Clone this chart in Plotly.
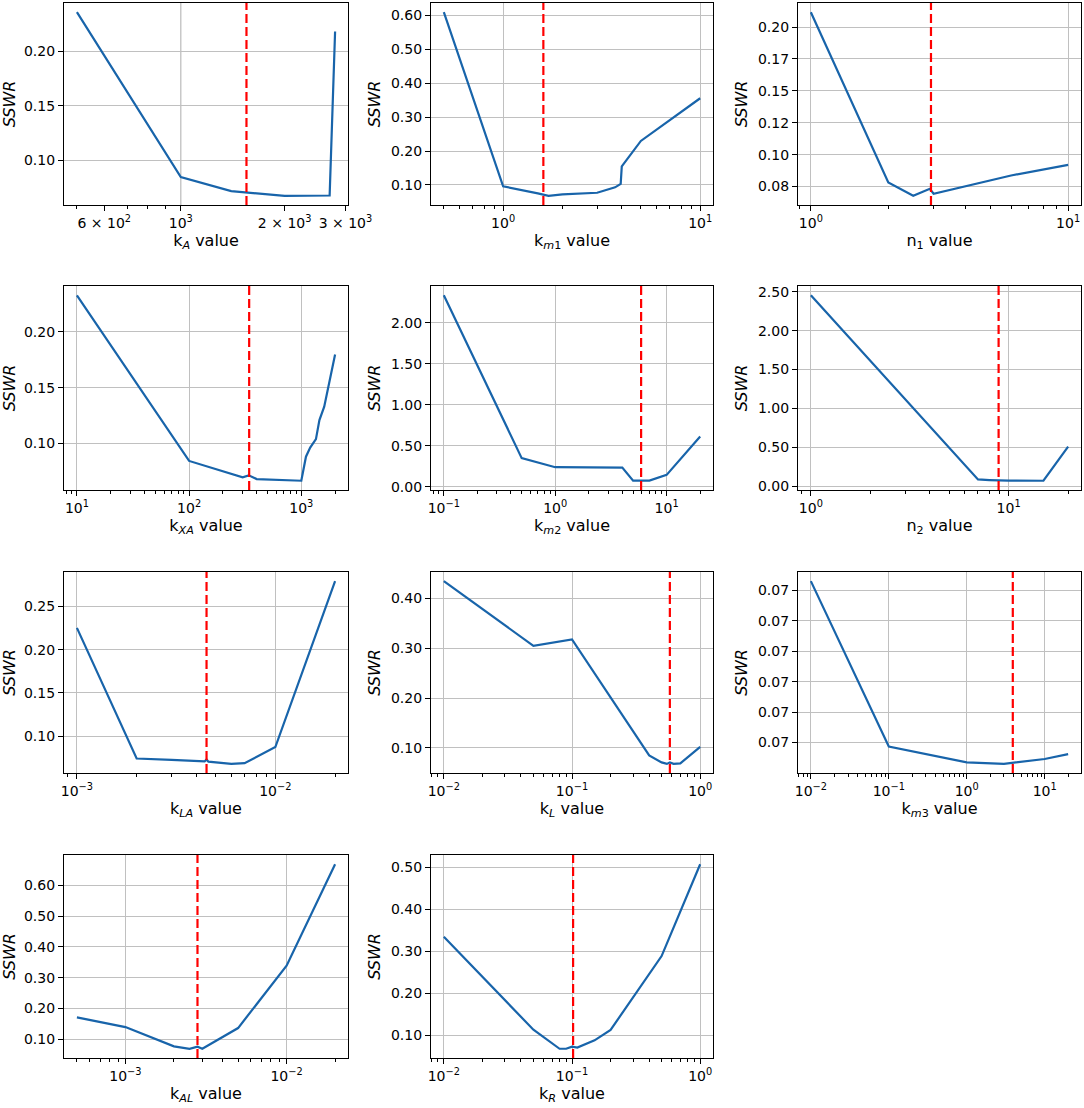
import math
import plotly.graph_objects as go

# ---------------- data ----------------
kA_x = [500, 1000, 1400, 2000, 2700, 2800]
kA_y = [0.2356, 0.0848, 0.0720, 0.0677, 0.0680, 0.2180]
kA_best = 1550

km1_x = [0.5, 1.0, 1.5, 1.6, 1.7, 2.0, 3.0, 3.7, 3.95, 4.0, 5.0, 10.0]
km1_y = [0.610, 0.096, 0.075, 0.071, 0.068, 0.072, 0.077, 0.093, 0.103, 0.155, 0.230, 0.356]
km1_best = 1.6

n1_x = [1, 2, 2.5, 2.9, 3, 6, 10]
n1_y = [0.2117, 0.0781, 0.0677, 0.0732, 0.0693, 0.0836, 0.0920]
n1_best = 2.93

kXA_x = [10, 100, 300, 340, 400, 1000, 1100, 1200, 1350, 1450, 1600, 2000]
kXA_y = [0.2326, 0.0845, 0.0698, 0.0716, 0.0683, 0.0668, 0.0883, 0.0964, 0.1040, 0.1210, 0.1330, 0.1796]
kXA_best = 343

km2_x = [0.1, 0.5, 1, 4, 5, 6, 7, 10, 20]
km2_y = [2.334, 0.348, 0.237, 0.233, 0.073, 0.072, 0.073, 0.143, 0.612]
km2_best = 5.9

n2_x = [1, 7, 8, 9, 10, 15, 20]
n2_y = [2.457, 0.086, 0.078, 0.073, 0.070, 0.069, 0.508]
n2_best = 8.9

kLA_x = [0.001, 0.002, 0.003, 0.0044, 0.0045, 0.0046, 0.006, 0.007, 0.01, 0.02]
kLA_y = [0.2253, 0.0741, 0.0725, 0.0707, 0.0730, 0.0705, 0.0679, 0.0687, 0.0874, 0.2794]
kLA_best = 0.0045

kL_x = [0.01, 0.05, 0.1, 0.4, 0.5, 0.55, 0.58, 0.62, 0.7, 1.0]
kL_y = [0.435, 0.305, 0.318, 0.085, 0.071, 0.068, 0.071, 0.068, 0.069, 0.102]
kL_best = 0.58

km3_x = [0.01, 0.1, 1, 3, 10, 20]
km3_y = [0.07066, 0.069574, 0.06947, 0.06946, 0.069492, 0.069524]
km3_best = 3.9

kAL_x = [0.0005, 0.001, 0.002, 0.0025, 0.0028, 0.003, 0.005, 0.01, 0.02]
kAL_y = [0.1706, 0.139, 0.0762, 0.0684, 0.0750, 0.0684, 0.1358, 0.3386, 0.669]
kAL_best = 0.0028

kR_x = [0.01, 0.05, 0.08, 0.09, 0.1, 0.11, 0.15, 0.2, 0.5, 1.0]
kR_y = [0.335, 0.1134, 0.068, 0.068, 0.073, 0.071, 0.088, 0.113, 0.289, 0.508]
kR_best = 0.102

# x tick labels
kA_xticks = [600, 1000, 2000, 3000]
kA_xtext = ["6 × 10<sup>2</sup>", "10<sup>3</sup>", "2 × 10<sup>3</sup>", "3 × 10<sup>3</sup>"]
dec_ticks = [0.001, 0.01, 0.1, 1, 10, 100, 1000]
dec_text = ["10<sup>−3</sup>", "10<sup>−2</sup>", "10<sup>−1</sup>", "10<sup>0</sup>",
            "10<sup>1</sup>", "10<sup>2</sup>", "10<sup>3</sup>"]

# y tick values / labels
yt_kA = [0.10, 0.15, 0.20]
yt_km1 = [0.10, 0.20, 0.30, 0.40, 0.50, 0.60]
yt_n1 = [0.075, 0.100, 0.125, 0.150, 0.175, 0.200]
yt_n1_text = ["0.08", "0.10", "0.12", "0.15", "0.17", "0.20"]
yt_kXA = [0.10, 0.15, 0.20]
yt_km2 = [0.0, 0.5, 1.0, 1.5, 2.0]
yt_n2 = [0.0, 0.5, 1.0, 1.5, 2.0, 2.5]
yt_kLA = [0.10, 0.15, 0.20, 0.25]
yt_kL = [0.10, 0.20, 0.30, 0.40]
yt_km3 = [0.0696, 0.0698, 0.0700, 0.0702, 0.0704, 0.0706]
yt_kAL = [0.10, 0.20, 0.30, 0.40, 0.50, 0.60]
yt_kR = [0.10, 0.20, 0.30, 0.40, 0.50]

# x axis titles
xlabels = [
    "k<sub><i>A</i></sub> value", "k<sub><i>m</i>1</sub> value", "n<sub>1</sub> value",
    "k<sub><i>XA</i></sub> value", "k<sub><i>m</i>2</sub> value", "n<sub>2</sub> value",
    "k<sub><i>LA</i></sub> value", "k<sub><i>L</i></sub> value", "k<sub><i>m</i>3</sub> value",
    "k<sub><i>AL</i></sub> value", "k<sub><i>R</i></sub> value",
]

panels = [
    (kA_x, kA_y, kA_best, yt_kA, None),
    (km1_x, km1_y, km1_best, yt_km1, None),
    (n1_x, n1_y, n1_best, yt_n1, yt_n1_text),
    (kXA_x, kXA_y, kXA_best, yt_kXA, None),
    (km2_x, km2_y, km2_best, yt_km2, None),
    (n2_x, n2_y, n2_best, yt_n2, None),
    (kLA_x, kLA_y, kLA_best, yt_kLA, None),
    (kL_x, kL_y, kL_best, yt_kL, None),
    (km3_x, km3_y, km3_best, yt_km3, None),
    (kAL_x, kAL_y, kAL_best, yt_kAL, None),
    (kR_x, kR_y, kR_best, yt_kR, None),
]

# ---------------- layout geometry (pixels) ----------------
W, H = 1084, 1108
col_px = [(64, 348), (431, 713), (798, 1081)]
row_px = [(3, 205), (286, 490), (572, 773), (855, 1058)]

BLUE = "#1864aa"
GRID = "#c0c0c0"
FONT = "DejaVu Sans"

fig = go.Figure()
layout = dict(
    width=W, height=H, margin=dict(l=0, r=0, t=0, b=0, autoexpand=False),
    paper_bgcolor="white", plot_bgcolor="white", showlegend=False,
    font=dict(family=FONT, color="black"),
)
shapes = []

for i, (xs, ys, best, ytv, ytt) in enumerate(panels):
    r, c = divmod(i, 3)
    n = i + 1
    xa = "x" if n == 1 else f"x{n}"
    ya = "y" if n == 1 else f"y{n}"
    xkey = "xaxis" if n == 1 else f"xaxis{n}"
    ykey = "yaxis" if n == 1 else f"yaxis{n}"

    fig.add_trace(go.Scatter(x=xs, y=ys, mode="lines", line=dict(color=BLUE, width=2.2),
                             xaxis=xa, yaxis=ya, hoverinfo="skip"))

    lo, hi = math.log10(min(xs)), math.log10(max(xs))
    pad = 0.05 * (hi - lo)
    xr = [lo - pad, hi + pad]
    ymin, ymax = min(ys), max(ys)
    ypad = 0.05 * (ymax - ymin)
    yr = [ymin - ypad, ymax + ypad]

    minor_vals = []
    for k in range(math.floor(xr[0]) - 1, math.ceil(xr[1]) + 1):
        for m in range(2, 10):
            v = m * 10 ** k
            if xr[0] <= math.log10(v) <= xr[1]:
                minor_vals.append(v)

    if n == 1:
        tv, tt = kA_xticks, kA_xtext
        showgrid_x = False
        shapes.append(dict(type="line", xref=xa, yref=f"{ya} domain", x0=1000, x1=1000,
                           y0=0, y1=1, line=dict(color=GRID, width=1.3), layer="below"))
    else:
        tv = [v for v, t in zip(dec_ticks, dec_text) if xr[0] <= math.log10(v) <= xr[1]]
        tt = [t for v, t in zip(dec_ticks, dec_text) if xr[0] <= math.log10(v) <= xr[1]]
        showgrid_x = True

    x0, x1 = col_px[c]
    t0, b0 = row_px[r]
    layout[xkey] = dict(
        type="log", range=xr, domain=[x0 / W, x1 / W], anchor=ya, automargin=False,
        tickmode="array", tickvals=tv, ticktext=tt,
        showgrid=showgrid_x, gridcolor=GRID, gridwidth=1.3,
        ticks="outside", ticklen=5, tickwidth=1, tickcolor="black",
        minor=dict(tickmode="array", tickvals=minor_vals, ticks="outside", ticklen=3,
                   tickwidth=0.8, tickcolor="black", showgrid=False),
        showline=True, linecolor="black", linewidth=1.2, mirror=True,
        zeroline=False, tickfont=dict(family=FONT, size=14),
        title=dict(text=xlabels[i], font=dict(family=FONT, size=16), standoff=4),
    )
    layout[ykey] = dict(
        range=yr, domain=[1 - b0 / H, 1 - t0 / H], anchor=xa, automargin=False,
        tickmode="array", tickvals=ytv,
        ticktext=ytt if ytt is not None else [f"{v:.2f}" for v in ytv],
        showgrid=True, gridcolor=GRID, gridwidth=1.3,
        ticks="outside", ticklen=5, tickwidth=1, tickcolor="black",
        showline=True, linecolor="black", linewidth=1.2, mirror=True,
        zeroline=False, tickfont=dict(family=FONT, size=14),
        title=dict(text="<i>SSWR</i>", font=dict(family=FONT, size=16), standoff=6),
    )
    shapes.append(dict(type="line", xref=xa, yref=f"{ya} domain", x0=best, x1=best,
                       y0=0, y1=1, line=dict(color="#ff0000", width=2.2, dash="9px,4px")))

layout["shapes"] = shapes
fig.update_layout(**layout)
fig.write_html(
    "out.html",
    config={"displayModeBar": False},
    post_script="document.body.style.margin='0';document.body.style.padding='0';"
                "document.documentElement.style.overflow='hidden';",
)
